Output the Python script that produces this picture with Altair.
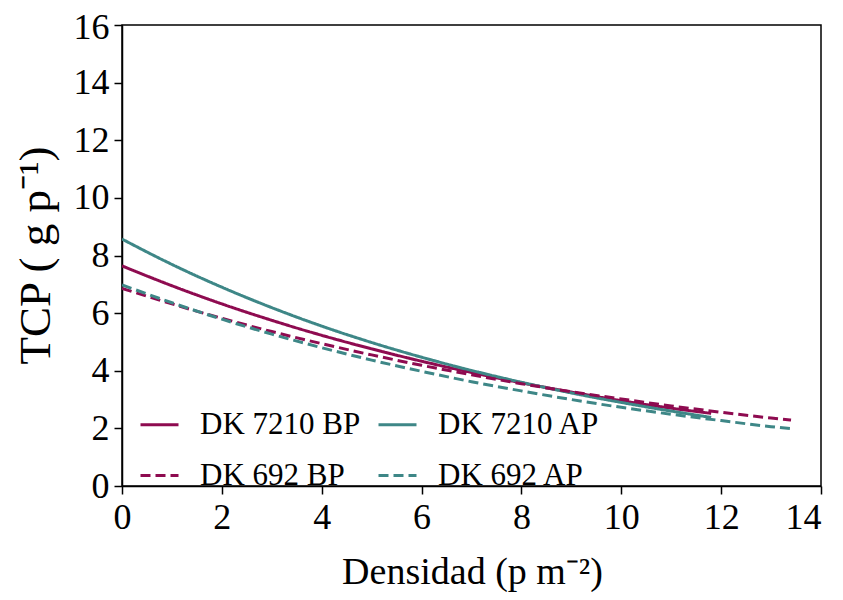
import altair as alt
import pandas as pd

# ---- data ----
# order chosen so that the 2-column legend reads: row 1 = 7210 BP, 7210 AP ; row 2 = 692 BP, 692 AP
series_names = ["DK 7210 BP", "DK 692 BP", "DK 7210 AP", "DK 692 AP"]
series_colors = ["#8E0B50", "#8E0B50", "#3E8787", "#3E8787"]
dash_range = [[1, 0], [10, 5], [1, 0], [10, 5]]

x_7210 = [0, 1, 2, 3, 4, 5, 6, 7, 8, 9, 10, 11, 11.8]
tcp_7210_bp = [7.64, 6.95, 6.32, 5.75, 5.23, 4.76, 4.33, 3.94, 3.58, 3.26, 2.96, 2.70, 2.52]
tcp_7210_ap = [8.57, 7.69, 6.90, 6.19, 5.55, 4.98, 4.47, 4.01, 3.60, 3.23, 2.90, 2.60, 2.38]

x_692 = [0, 1, 2, 3, 4, 5, 6, 7, 8, 9, 10, 11, 12, 13, 13.4]
tcp_692_bp = [6.86, 6.32, 5.82, 5.36, 4.94, 4.55, 4.19, 3.86, 3.55, 3.27, 3.02, 2.78, 2.56, 2.36, 2.29]
tcp_692_ap = [6.98, 6.36, 5.79, 5.27, 4.80, 4.37, 3.98, 3.62, 3.30, 3.00, 2.73, 2.49, 2.27, 2.06, 1.99]

x_ticks = [0, 2, 4, 6, 8, 10, 12, 14]
y_ticks = [0, 2, 4, 6, 8, 10, 12, 14, 16]

rows = []
for name, xs, ys in [
    ("DK 7210 BP", x_7210, tcp_7210_bp),
    ("DK 7210 AP", x_7210, tcp_7210_ap),
    ("DK 692 BP", x_692, tcp_692_bp),
    ("DK 692 AP", x_692, tcp_692_ap),
]:
    for xv, yv in zip(xs, ys):
        rows.append({"series": name, "x": xv, "y": yv})
df = pd.DataFrame(rows)

FONT = "Liberation Serif"

legend = alt.Legend(
    title=None, orient="none", legendX=17, legendY=379, columns=2,
    symbolType="stroke", symbolSize=1444, symbolStrokeWidth=3,
    labelFont=FONT, labelFontSize=31, labelColor="black", labelLimit=400,
    labelOffset=20, columnPadding=11, rowPadding=15, padding=0,
)

chart = alt.Chart(df).mark_line(strokeWidth=3, interpolate="monotone", clip=True).encode(
    x=alt.X("x:Q", scale=alt.Scale(domain=[0, 14], nice=False, zero=False),
            axis=alt.Axis(values=x_ticks, title="Densidad (p m⁻²)", labelFlush=False,
                          labelAlign=alt.condition("datum.value == 14", alt.value("right"), alt.value("center")),
                          labelPadding=6, titleFontSize=38,
                          titleX=350, titleY=97, titleAlign="center", titleBaseline="alphabetic")),
    y=alt.Y("y:Q", scale=alt.Scale(domain=[0, 16], nice=False),
            axis=alt.Axis(values=y_ticks, title="TCP ( g p⁻¹)", labelPadding=5,
                          labelOffset=alt.condition("datum.value == 16", alt.value(2), alt.value(0)),
                          titleFontSize=45,
                          titleX=-73, titleY=230, titleAlign="center", titleBaseline="alphabetic",
                          titleAngle=270)),
    color=alt.Color("series:N", scale=alt.Scale(domain=series_names, range=series_colors), legend=legend),
    strokeDash=alt.StrokeDash("series:N", scale=alt.Scale(domain=series_names, range=dash_range), legend=legend),
).properties(
    width=699, height=461,
    autosize=alt.AutoSizeParams(type="none"),
    padding={"left": 114, "top": 17, "right": 14, "bottom": 106},
).configure_view(
    stroke="black", strokeWidth=1.5
).configure_axis(
    grid=False, domainColor="black", domainWidth=1.5, tickColor="black", tickWidth=1.5,
    tickSize=8, labelFont=FONT, labelFontSize=36, labelColor="black",
    titleFont=FONT, titleFontWeight="normal", titleColor="black",
)

chart.save("out.html", embed_options={"renderer": "svg", "actions": False})
